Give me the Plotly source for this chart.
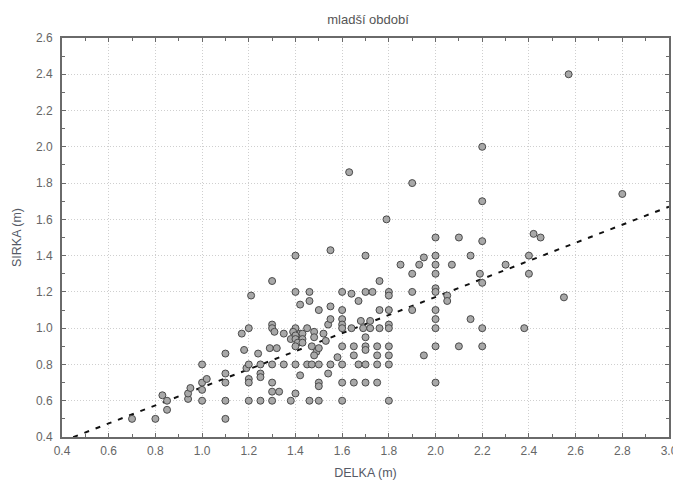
import plotly.graph_objects as go

# DELKA (length, m) and SIRKA (width, m)
delka = [
    0.70, 0.80, 0.83, 0.85, 0.85, 0.94, 0.94, 0.95, 1.00, 1.00, 1.00, 1.00, 1.02,
    1.10, 1.10, 1.10, 1.10, 1.10, 1.17,
    1.18, 1.19, 1.20, 1.20, 1.20, 1.20, 1.20, 1.21, 1.24, 1.25, 1.25, 1.25, 1.25,
    1.30, 1.30, 1.30, 1.31, 1.29, 1.32, 1.30, 1.30, 1.30, 1.33, 1.30, 1.35, 1.35,
    1.38, 1.40, 1.40, 1.40, 1.39, 1.42, 1.43, 1.40, 1.38, 1.40, 1.43, 1.41, 1.43,
    1.40, 1.40, 1.40, 1.42, 1.42, 1.45, 1.45, 1.46, 1.46, 1.46, 1.47, 1.47, 1.48,
    1.48, 1.49, 1.48,
    1.50, 1.50, 1.50, 1.50, 1.50, 1.50, 1.52, 1.53, 1.54, 1.54, 1.55, 1.55, 1.55,
    1.55, 1.58,
    1.60, 1.60, 1.60, 1.60, 1.60, 1.60, 1.60, 1.60, 1.60, 1.63, 1.64, 1.64, 1.65,
    1.65, 1.65, 1.67, 1.67, 1.68,
    1.70, 1.70, 1.69, 1.70, 1.70, 1.70, 1.70, 1.70, 1.72, 1.72, 1.73, 1.75, 1.75,
    1.75, 1.75, 1.76, 1.76, 1.76,
    1.79, 1.80, 1.80, 1.80, 1.80, 1.80, 1.80, 1.80, 1.80, 1.80, 1.85, 1.90, 1.90,
    1.90, 1.90, 1.93, 1.95, 1.95,
    2.00, 2.00, 2.00, 2.00, 2.00, 2.00, 2.00, 2.00, 2.00, 2.00, 2.00, 2.05, 2.05,
    2.07,
    2.10, 2.10, 2.15, 2.15, 2.19, 2.20, 2.20, 2.20, 2.20, 2.20, 2.20, 2.30, 2.38,
    2.40, 2.40, 2.42, 2.45, 2.55, 2.57, 2.80,
]
sirka = [
    0.50, 0.50, 0.63, 0.60, 0.55, 0.61, 0.64, 0.67, 0.80, 0.70, 0.66, 0.60, 0.72,
    0.86, 0.75, 0.70, 0.60, 0.50, 0.97,
    0.88, 0.78, 1.00, 0.80, 0.72, 0.70, 0.60, 1.18, 0.86, 0.80, 0.75, 0.73, 0.60,
    1.26, 1.02, 1.00, 0.98, 0.89, 0.89, 0.80, 0.70, 0.65, 0.65, 0.60, 0.97, 0.80,
    0.60, 1.40, 1.20, 1.00, 0.98, 0.97, 0.97, 0.96, 0.94, 0.94, 0.94, 0.92, 0.92,
    0.90, 0.80, 0.64, 1.13, 0.74, 1.00, 0.80, 1.20, 1.15, 0.60, 0.90, 0.80, 0.98,
    0.95, 0.87, 0.85,
    1.10, 0.89, 0.80, 0.70, 0.68, 0.60, 0.97, 0.93, 1.02, 0.75, 1.43, 1.12, 1.05,
    0.80, 0.84,
    1.20, 1.10, 1.05, 1.02, 1.00, 0.90, 0.80, 0.70, 0.60, 1.86, 1.19, 1.00, 0.90,
    0.85, 0.70, 1.15, 0.80, 1.04,
    1.40, 1.20, 1.00, 0.95, 0.90, 0.88, 0.80, 0.70, 1.04, 1.00, 1.20, 0.90, 0.85,
    0.80, 0.70, 1.26, 1.10, 1.00,
    1.60, 1.20, 1.18, 1.10, 1.02, 1.00, 0.90, 0.85, 0.80, 0.60, 1.35, 1.80, 1.30,
    1.20, 1.10, 1.35, 1.39, 0.85,
    1.50, 1.40, 1.35, 1.30, 1.22, 1.20, 1.10, 1.05, 1.00, 0.90, 0.70, 1.18, 1.15,
    1.35,
    1.50, 0.90, 1.40, 1.05, 1.30, 2.00, 1.70, 1.48, 1.25, 1.00, 0.90, 1.35, 1.00,
    1.40, 1.30, 1.52, 1.50, 1.17, 2.40, 1.74,
]

# linear fit
fit_intercept = 0.176
fit_slope = 0.498
fit_x = [0.4, 3.0]
fit_y = [fit_intercept + fit_slope * v for v in fit_x]

x_range = [0.4, 3.0]
y_range = [0.4, 2.6]

title_text = "mladší období"
x_title = "DELKA (m)"
y_title = "SIRKA (m)"

font_family = "Liberation Sans, Arial, sans-serif"

fig = go.Figure()
fig.add_trace(go.Scatter(
    x=fit_x, y=fit_y, mode="lines",
    line=dict(color="#111111", width=2, dash="5px,7px"),
    hoverinfo="skip", showlegend=False,
))
fig.add_trace(go.Scatter(
    x=delka, y=sirka, mode="markers",
    marker=dict(symbol="circle", size=7, color="#a8a8a8",
                line=dict(color="#4a4a4a", width=1)),
    showlegend=False,
))

axis_common = dict(
    showline=True, linecolor="#6a6a6a", linewidth=2, mirror="ticks",
    ticks="inside", ticklen=4, tickcolor="#6a6a6a", tickwidth=1,
    showgrid=True, gridcolor="#cfcfcf", gridwidth=1, griddash="1px,2px",
    zeroline=False, dtick=0.2, tickformat=".1f",
    tickfont=dict(family=font_family, size=12, color="#666666"),
    minor=dict(dtick=0.1, ticks="inside", ticklen=3, tickcolor="#6a6a6a",
               showgrid=False),
)

fig.update_xaxes(range=x_range, tick0=0.4, ticklabelstandoff=2,
                 title=dict(text=x_title, standoff=11,
                            font=dict(family=font_family, size=12.5, color="#555a66")),
                 **axis_common)
fig.update_yaxes(range=y_range, tick0=0.4, ticklabelstandoff=5,
                 title=dict(text=y_title, standoff=12,
                            font=dict(family=font_family, size=12.5, color="#555a66")),
                 **axis_common)

fig.update_layout(
    width=673, height=474,
    margin=dict(l=54, r=12, t=30, b=45, autoexpand=False),
    paper_bgcolor="white", plot_bgcolor="white",
    title=dict(text=title_text, x=0.535, xanchor="center", y=0.975, yanchor="middle",
               font=dict(family=font_family, size=13, color="#555555")),
)

fig.write_html("out.html")
